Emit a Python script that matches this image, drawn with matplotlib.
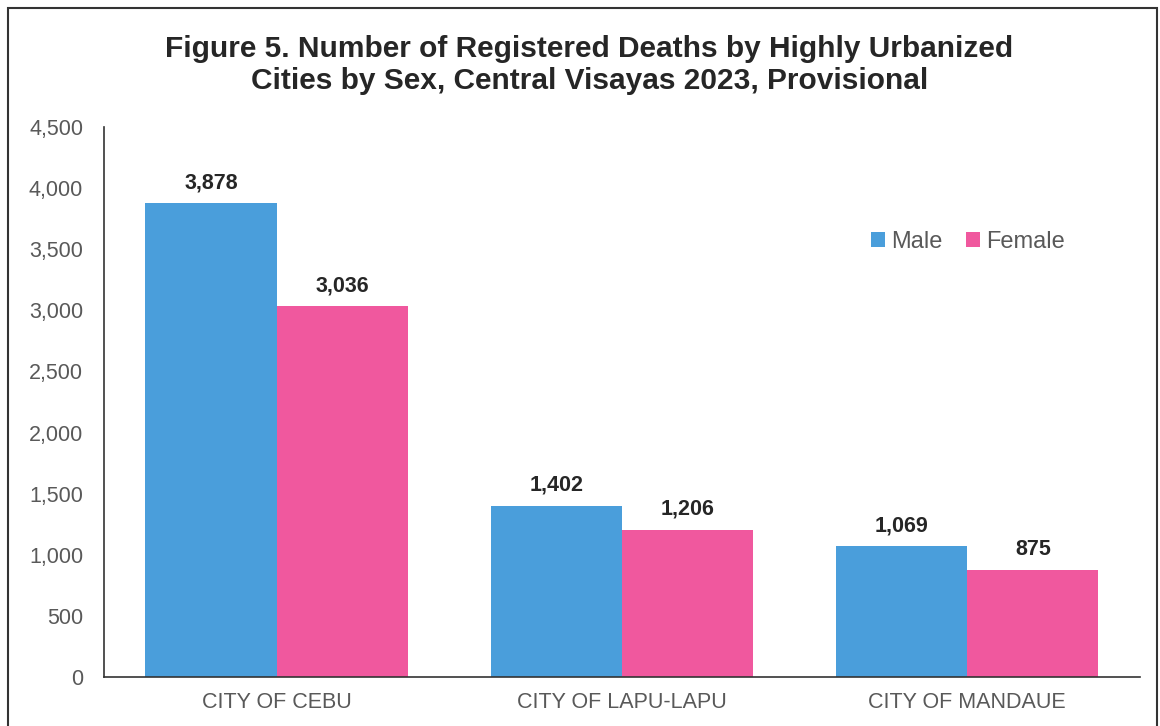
import matplotlib.pyplot as plt
from matplotlib.patches import Rectangle
import numpy as np

plt.rcParams['font.family'] = ['Liberation Sans', 'DejaVu Sans']

cities = ['CITY OF CEBU', 'CITY OF LAPU-LAPU', 'CITY OF MANDAUE']
male = [3878, 1402, 1069]
female = [3036, 1206, 875]
yticks = list(range(0, 4501, 500))

BLUE = '#4a9edb'
PINK = '#f0589e'
GREY = '#595959'

fig = plt.figure(figsize=(11.6, 7.26), dpi=100)
ax = fig.add_axes([0.0897, 0.0675, 0.893, 0.7575])

x = np.arange(len(cities))
w = 0.38
b1 = ax.bar(x - w / 2, male, w, color=BLUE, label='Male')
b2 = ax.bar(x + w / 2, female, w, color=PINK, label='Female')

# value labels above bars
for bars in (b1, b2):
    for b in bars:
        ax.annotate(f'{int(b.get_height()):,}', (b.get_x() + b.get_width() / 2, b.get_height()),
                    xytext=(0, 7), textcoords='offset points', ha='center', va='bottom',
                    fontsize=15.5, fontweight='bold', color='#262626')

ax.set_xlim(-0.5, 2.5)
ax.set_ylim(0, 4500)
ax.set_yticks(yticks)
ax.set_yticklabels([f'{v:,}' for v in yticks], fontsize=15.5, color=GREY)
ax.set_xticks(x)
ax.set_xticklabels(cities, fontsize=15.5, color=GREY)
ax.tick_params(axis='x', length=0, pad=11)
ax.tick_params(axis='y', length=0, pad=15)
for s in ('top', 'right'):
    ax.spines[s].set_visible(False)
ax.spines['left'].set_color('#333333')
ax.spines['bottom'].set_color('#333333')
ax.spines['left'].set_linewidth(1.2)
ax.spines['bottom'].set_linewidth(1.2)

leg = ax.legend(loc='upper left', bbox_to_anchor=(0.72, 0.85), ncol=2, frameon=False,
                fontsize=17, handlelength=0.6, handleheight=0.6, handletextpad=0.25,
                columnspacing=1.0)
for t in leg.get_texts():
    t.set_color(GREY)

fig.text(0.508, 0.91, 'Figure 5. Number of Registered Deaths by Highly Urbanized\n'
         'Cities by Sex, Central Visayas 2023, Provisional',
         ha='center', va='center', fontsize=21.5, fontweight='bold', color='#262626',
         linespacing=1.18)

# outer frame
fig.patches.append(Rectangle((0.007, -0.01), 0.99, 0.999, transform=fig.transFigure,
                             fill=False, edgecolor='#333333', linewidth=1.5))

fig.savefig('out.png')
